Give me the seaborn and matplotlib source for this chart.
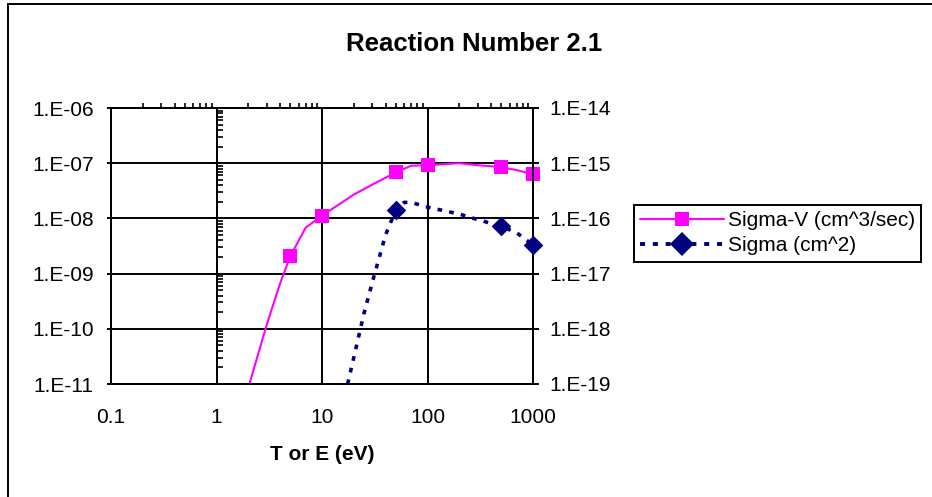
import matplotlib.pyplot as plt
import matplotlib.ticker as mticker
import numpy as np
import seaborn as sns
from matplotlib.lines import Line2D
from matplotlib.patches import Rectangle

# energy axis (eV)
energy_ticks = [0.1, 1, 10, 100, 1000]
sigv_ticks = [1e-11, 1e-10, 1e-9, 1e-8, 1e-7, 1e-6]
sigma_ticks = [1e-19, 1e-18, 1e-17, 1e-16, 1e-15, 1e-14]

# Sigma-V (cm^3/sec): smooth curve + tabulated points
sigv_curve_e = [2, 3, 4, 5, 7, 10, 20, 30, 50, 70, 100, 200, 300, 500, 700, 1000]
sigv_curve = [8.5e-12, 1.2e-10, 6.6e-10, 2.06e-9, 6.8e-9, 1.12e-8, 2.7e-8, 4.1e-8,
              6.8e-8, 9.0e-8, 9.2e-8, 1.0e-7, 9.2e-8, 8.5e-8, 7.5e-8, 6.3e-8]
sigv_pts_e = [5, 10, 50, 100, 500, 1000]
sigv_pts = [2.06e-9, 1.12e-8, 6.8e-8, 9.2e-8, 8.5e-8, 6.3e-8]

# Sigma (cm^2)
sigma_curve_e = [17.5, 20, 25, 30, 40, 50, 60, 70, 100, 200, 300, 500, 700, 1000]
sigma_curve = [1e-19, 3e-19, 1.9e-18, 7e-18, 5e-17, 1.42e-16, 1.95e-16, 1.95e-16,
               1.6e-16, 1.2e-16, 9.5e-17, 7.2e-17, 5.5e-17, 3.3e-17]
sigma_pts_e = [50, 500, 1000]
sigma_pts = [1.42e-16, 7.2e-17, 3.3e-17]

PINK = "#ff00ff"
NAVY = "#000080"
DOTS = (0, (1.3, 2.0))
W, H = 932, 497

sns.set_theme(style="white")
plt.rcParams["font.family"] = ["Liberation Sans", "DejaVu Sans"]
plt.rcParams["text.color"] = "black"
plt.rcParams["axes.labelcolor"] = "black"

fig = plt.figure(figsize=(W / 100, H / 100), dpi=100)
fig.patches.append(Rectangle((8 / W, -0.1), 1.2, 1.1 - 4 / H, transform=fig.transFigure,
                             fill=False, edgecolor="black", linewidth=1.4))

ax = fig.add_axes([111 / W, 1 - 384 / H, (533 - 111) / W, (384 - 108) / H])
ax2 = ax.twinx()

sns.lineplot(x=sigv_curve_e, y=sigv_curve, ax=ax, color=PINK, linewidth=1.5,
             estimator=None, sort=False)
sns.scatterplot(x=sigv_pts_e, y=sigv_pts, ax=ax, marker="s", s=115, color=PINK,
                linewidth=0, zorder=3, clip_on=False)
sns.lineplot(x=sigma_curve_e, y=sigma_curve, ax=ax2, color=NAVY, linewidth=2.6,
             linestyle=DOTS, estimator=None, sort=False)
sns.scatterplot(x=sigma_pts_e, y=sigma_pts, ax=ax2, marker="D", s=100, color=NAVY,
                linewidth=0, zorder=3, clip_on=False)

ax.set_xscale("log")
ax.set_yscale("log")
ax2.set_yscale("log")
ax.set_xlim(0.1, 1000)
ax.set_ylim(1e-11, 1e-6)
ax2.set_ylim(1e-19, 1e-14)

exp_fmt = mticker.FuncFormatter(lambda v, _: f"1.E{int(round(np.log10(v))):03d}")
ax.set_xticks(energy_ticks)
ax.xaxis.set_major_formatter(mticker.FuncFormatter(lambda v, _: f"{v:g}"))
ax.xaxis.set_minor_locator(mticker.NullLocator())
ax.set_yticks(sigv_ticks)
ax.yaxis.set_major_formatter(exp_fmt)
ax.yaxis.set_minor_locator(mticker.NullLocator())
ax2.set_yticks(sigma_ticks)
ax2.yaxis.set_major_formatter(exp_fmt)
ax2.yaxis.set_minor_locator(mticker.NullLocator())

ax.tick_params(axis="x", which="major", length=0, pad=17, labelsize=15, colors="black")
ax.tick_params(axis="y", which="major", direction="out", length=3, width=1.4,
               pad=9.5, labelsize=15, colors="black", left=True)
ax2.tick_params(axis="y", which="major", direction="inout", length=8, width=1.4,
                pad=8, labelsize=15, colors="black", right=True)
ax.set_xlabel("")
ax.set_ylabel("")
ax2.set_ylabel("")

ax.grid(True, which="major", color="black", linewidth=1.4)
for a in (ax, ax2):
    for sp in a.spines.values():
        sp.set_color("black")
        sp.set_linewidth(1.4)

# minor ticks on top edge
top = ax.secondary_xaxis("top")
top.xaxis.set_major_locator(mticker.NullLocator())
top.xaxis.set_minor_locator(mticker.LogLocator(base=10, subs=np.arange(2, 10)))
top.xaxis.set_minor_formatter(mticker.NullFormatter())
top.tick_params(which="minor", direction="out", length=3.5, width=1.2, colors="black")
top.spines["top"].set_linewidth(1.4)

# minor ticks along the E = 1 line
mid = ax.secondary_yaxis(0.25)
mid.yaxis.set_major_locator(mticker.FixedLocator(sigv_ticks))
mid.yaxis.set_major_formatter(mticker.NullFormatter())
mid.yaxis.set_minor_locator(mticker.LogLocator(base=10, subs=np.arange(2, 10)))
mid.yaxis.set_minor_formatter(mticker.NullFormatter())
mid.tick_params(which="major", direction="inout", length=6, width=1.4, colors="black")
mid.tick_params(which="minor", direction="in", length=4, width=1.2, colors="black")
for sp in mid.spines.values():
    sp.set_linewidth(1.4)

handles = [
    Line2D([], [], color=PINK, linewidth=1.5, marker="s", markersize=10.7,
           markeredgewidth=0),
    Line2D([], [], color=NAVY, linewidth=2.8, linestyle=DOTS, marker="D",
           markersize=12, markeredgewidth=0),
]
leg = fig.legend(handles, ["Sigma-V (cm^3/sec)", "Sigma (cm^2)"], loc="upper left",
                 bbox_to_anchor=(634 / W, 1 - 205 / H), fontsize=15, frameon=True,
                 fancybox=False, framealpha=1, edgecolor="black", handlelength=4.0,
                 handletextpad=0.2, borderpad=0.3, labelspacing=0.3, borderaxespad=0)
leg.get_frame().set_linewidth(1.4)

fig.text(474.5 / W, 1 - 51 / H, "Reaction Number 2.1", ha="center", va="baseline",
         fontsize=18.5, fontweight="bold", color="black")
fig.text(322 / W, 1 - 460 / H, "T or E (eV)", ha="center", va="baseline",
         fontsize=15, fontweight="bold", color="black")

fig.savefig("out.png", dpi=100, facecolor="white")
